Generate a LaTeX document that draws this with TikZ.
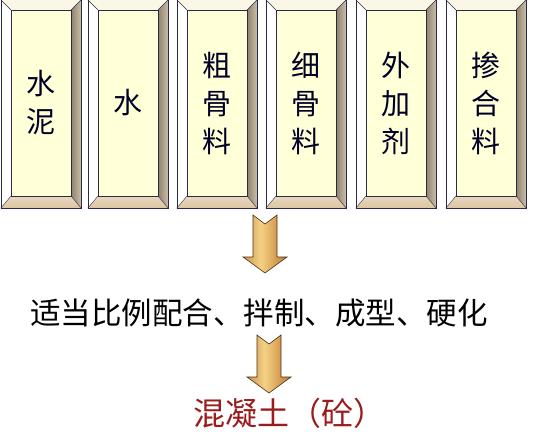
\documentclass[tikz,border=0pt]{standalone}
\usepackage{fontspec}
\newfontfamily\cjk{Noto Sans CJK SC}
\usetikzlibrary{calc}
\definecolor{facecol}{HTML}{FFFFD8}
\definecolor{topbev}{HTML}{FBF7E6}
\definecolor{leftbev}{HTML}{FFFFFF}
\definecolor{rightbev}{HTML}{B4A488}
\definecolor{botbev}{HTML}{DCC6A2}
\definecolor{edgecol}{HTML}{2A2A48}
\definecolor{concrete}{HTML}{9A1C1C}
\definecolor{arrowedge}{HTML}{4A2E12}
\pgfdeclarehorizontalshading{goldshade}{100bp}{rgb(0bp)=(0.42,0.28,0.12); rgb(25bp)=(0.78,0.58,0.30); rgb(45bp)=(0.96,0.82,0.52); rgb(62bp)=(0.84,0.62,0.32); rgb(80bp)=(0.66,0.45,0.20); rgb(100bp)=(0.40,0.26,0.10)}
\tikzset{
  face/.style={rectangle, fill=facecol, minimum width=60pt, minimum height=186pt, inner sep=0pt,
    font=\cjk\fontsize{29}{38}\selectfont, align=center, text=black!85!blue},
  bevline/.style={draw=edgecol, line width=0.6pt},
  midtext/.style={font=\cjk\fontsize{30.5}{34}\selectfont, text=black, inner sep=0pt},
  endtext/.style={font=\cjk\fontsize{32}{34}\selectfont, text=concrete, inner sep=0pt},
  goldarrow/.style={shading=goldshade, draw=arrowedge, line width=0.6pt, line join=miter}
}
\newcommand{\bevelbox}[1]{%
  \coordinate (#1-oNW) at ($(#1.north west)+(-10pt,10pt)$);
  \coordinate (#1-oNE) at ($(#1.north east)+(10pt,10pt)$);
  \coordinate (#1-oSW) at ($(#1.south west)+(-10pt,-12pt)$);
  \coordinate (#1-oSE) at ($(#1.south east)+(10pt,-12pt)$);
  \fill[topbev] (#1-oNW) -- (#1-oNE) -- (#1.north east) -- (#1.north west) -- cycle;
  \fill[leftbev] (#1-oNW) -- (#1.north west) -- (#1.south west) -- (#1-oSW) -- cycle;
  \shade[left color=rightbev!80!black, right color=rightbev!70!white] (#1-oNE) -- (#1-oSE) -- (#1.south east) -- (#1.north east) -- cycle;
  \shade[top color=botbev!70!white, bottom color=botbev] (#1-oSW) -- (#1.south west) -- (#1.south east) -- (#1-oSE) -- cycle;
  \draw[bevline] (#1-oNW) rectangle (#1-oSE);
  \draw[bevline] (#1.north west) rectangle (#1.south east);
  \draw[bevline, line width=0.4pt] (#1-oNW) -- (#1.north west) (#1-oNE) -- (#1.north east)
     (#1-oSW) -- (#1.south west) (#1-oSE) -- (#1.south east);
}
% block arrow from coordinate #1 (tail centre) to #2 (tip)
\newcommand{\blockarrow}[2]{%
  \draw[goldarrow] let \p1=(#1), \p2=(#2) in
    (\x1-12pt,\y1) -- (\x1,\y1-9pt) -- (\x1+12pt,\y1) -- (\x1+12pt,\y2+16pt)
    -- (\x1+22pt,\y2+16pt) -- (\x2,\y2) -- (\x1-22pt,\y2+16pt) -- (\x1-12pt,\y2+16pt) -- cycle;
}
\begin{document}
\begin{tikzpicture}[x=1pt,y=1pt]
\useasboundingbox (0,0) rectangle (537,-431);
\node[face] (b1) at (41,-103) {水\\泥};
\node[face] (b2) at (128,-103) {水};
\node[face] (b3) at (217,-103) {粗\\骨\\料};
\node[face] (b4) at (306,-103) {细\\骨\\料};
\node[face] (b5) at (396,-103) {外\\加\\剂};
\node[face] (b6) at (486,-103) {掺\\合\\料};
\foreach \b in {b1,b2,b3,b4,b5,b6}{\bevelbox{\b}}
\node[midtext] (mid) at (259,-313) {适当比例配合、拌制、成型、硬化};
\node[endtext] (end) at (289,-413) {混凝土（砼）};
\coordinate (a1s) at (265,-215);
\coordinate (a1e) at (265,-273);
\coordinate (a2s) at (269,-335);
\coordinate (a2e) at (269,-393);
\blockarrow{a1s}{a1e}
\blockarrow{a2s}{a2e}
\end{tikzpicture}
\end{document}
